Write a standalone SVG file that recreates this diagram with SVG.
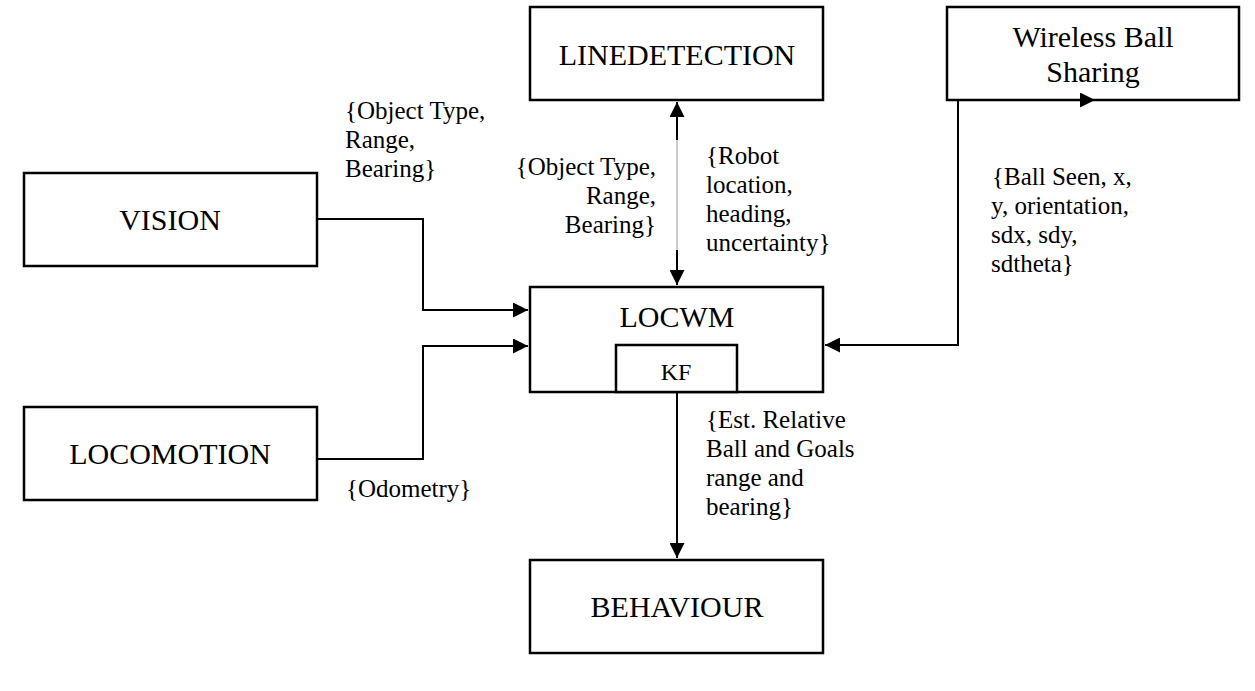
<svg xmlns="http://www.w3.org/2000/svg" width="1255" height="691" viewBox="0 0 1255 691">
<style>
.box{fill:#fff;stroke:#000;stroke-width:2.5}
text{font-family:'Liberation Serif','Times New Roman',serif;fill:#000}
.big{font-size:30px;text-anchor:middle}
.lbl{font-size:25px}
.c{fill:none;stroke:#000;stroke-width:2}
</style>
<defs>
<marker id="ah" viewBox="0 0 10 10" refX="10" refY="5" markerWidth="15" markerHeight="15" markerUnits="userSpaceOnUse" orient="auto-start-reverse">
<path d="M0,0 L10,5 L0,10 z" fill="#000"/>
</marker>
</defs>
<rect width="1255" height="691" fill="#fff"/>
<g id="linedetection"><rect class="box" x="530" y="7" width="293" height="93"/><text class="big" x="677" y="65">LINEDETECTION</text></g>
<g id="wireless"><rect class="box" x="947" y="7" width="292" height="93"/><text class="big" x="1093" y="47">Wireless Ball</text><text class="big" x="1093" y="82">Sharing</text></g>
<g id="vision"><rect class="box" x="24" y="173" width="293" height="93"/><text class="big" x="170" y="230">VISION</text></g>
<g id="locomotion"><rect class="box" x="24" y="407" width="293" height="93"/><text class="big" x="170" y="464">LOCOMOTION</text></g>
<g id="locwm"><rect class="box" x="530" y="287" width="293" height="105"/><text class="big" x="677" y="327">LOCWM</text></g>
<g id="kf"><rect class="box" x="616" y="345" width="121" height="47"/><text class="big" x="676" y="380" style="font-size:24px">KF</text></g>
<g id="behaviour"><rect class="box" x="530" y="560" width="293" height="93"/><text class="big" x="677" y="617">BEHAVIOUR</text></g>
<g id="connectors">
<path class="c" d="M317,219 H423 V310 H528" marker-end="url(#ah)"/>
<path class="c" d="M317,459 H423 V346 H528" marker-end="url(#ah)"/>
<path class="c" d="M958,101 V345 H825" marker-end="url(#ah)"/>
<path class="c" d="M947,100 H1095" marker-end="url(#ah)"/>
<path class="c" d="M677,393 V558" marker-end="url(#ah)"/>
<line x1="677" y1="140" x2="677" y2="250" stroke="#999" stroke-width="1"/>
<path class="c" d="M677,140 V102" marker-end="url(#ah)"/>
<path class="c" d="M677,250 V285" marker-end="url(#ah)"/>
</g>
<g id="labels">
<text class="lbl" x="345" y="119">{Object Type,</text>
<text class="lbl" x="345" y="148">Range,</text>
<text class="lbl" x="345" y="177">Bearing}</text>
<text class="lbl" x="656" y="175" text-anchor="end">{Object Type,</text>
<text class="lbl" x="656" y="204" text-anchor="end">Range,</text>
<text class="lbl" x="656" y="233" text-anchor="end">Bearing}</text>
<text class="lbl" x="706" y="164">{Robot</text>
<text class="lbl" x="706" y="193">location,</text>
<text class="lbl" x="706" y="222">heading,</text>
<text class="lbl" x="706" y="251">uncertainty}</text>
<text class="lbl" x="992" y="185">{Ball Seen, x,</text>
<text class="lbl" x="991" y="214">y, orientation,</text>
<text class="lbl" x="991" y="243">sdx, sdy,</text>
<text class="lbl" x="991" y="272">sdtheta}</text>
<text class="lbl" x="706" y="428">{Est. Relative</text>
<text class="lbl" x="706" y="457">Ball and Goals</text>
<text class="lbl" x="706" y="486">range and</text>
<text class="lbl" x="706" y="515">bearing}</text>
<text class="lbl" x="346" y="497">{Odometry}</text>
</g>
</svg>
